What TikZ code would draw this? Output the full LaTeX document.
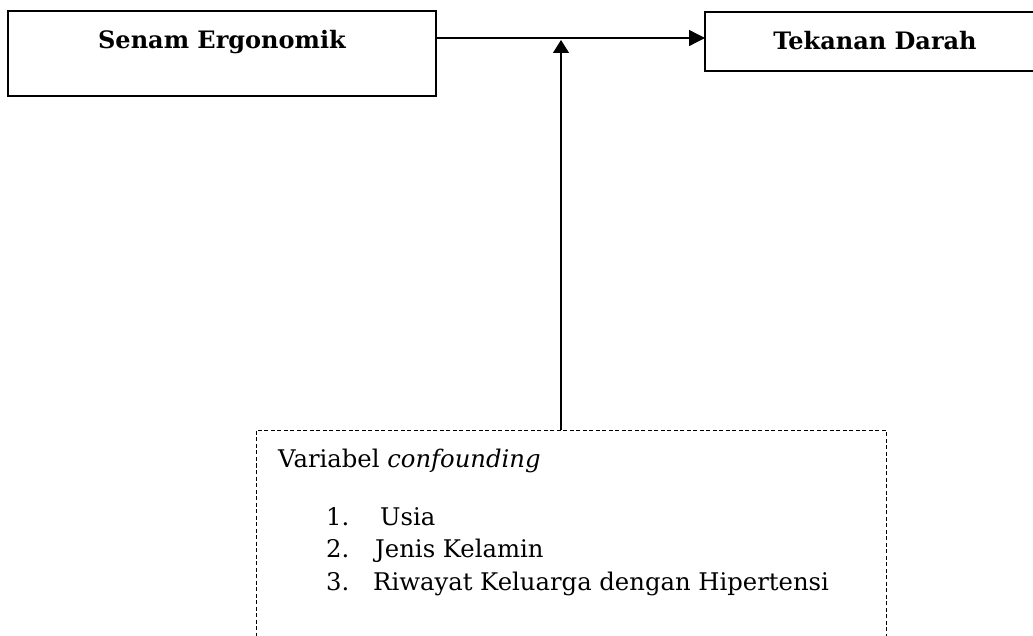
\documentclass[tikz,border=0pt]{standalone}
\usepackage{fontspec}
\setmainfont{DejaVu Serif}
\usetikzlibrary{arrows.meta}
\begin{document}
\begin{tikzpicture}[x=1pt,y=-1pt,
  box/.style={draw, line width=1.4pt, inner sep=0pt, outer sep=0pt, anchor=north west},
  dashbox/.style={draw, line width=1pt, dash pattern=on 4pt off 2.5pt, inner sep=0pt, outer sep=0pt, anchor=north west},
  title/.style={font=\fontsize{24}{28}\selectfont\bfseries, anchor=base, inner sep=0pt},
  body/.style={font=\fontsize{24.3}{29}\selectfont, anchor=base west, inner sep=0pt},
  link/.style={line width=1.3pt}]
\useasboundingbox (0,0) rectangle (1033,636);
\clip (0,0) rectangle (1033,636);
% boxes
\node[box, minimum width=428pt, minimum height=85pt] (se) at (8,11) {};
\node[box, minimum width=340pt, minimum height=59pt] (td) at (705,12) {};
\node[dashbox, minimum width=630pt, minimum height=260pt] (cf) at (256,430) {};
% titles
\node[title] (seT) at (222,49) {Senam Ergonomik};
\node[title] (tdT) at (875,50) {Tekanan Darah};
% confounding text
\node[body] (cfT) at (278,467) {Variabel \textit{confounding}};
\node[body] (n1) at (326,525) {1.};
\node[body] (i1) at (380,525) {Usia};
\node[body] (n2) at (326,557) {2.};
\node[body] (i2) at (375,557) {Jenis Kelamin};
\node[body] (n3) at (326,590) {3.};
\node[body] (i3) at (373,590) {Riwayat Keluarga dengan Hipertensi};
% connectors
\coordinate (meet) at (561,40);
\draw[link, -{Triangle[length=16pt,width=16pt]}] (se.east |- 0,38) -- (td.west |- 0,38);
\draw[link, -{Triangle[length=13pt,width=16pt]}] (cf.north -| meet) -- (meet);
\end{tikzpicture}
\end{document}
